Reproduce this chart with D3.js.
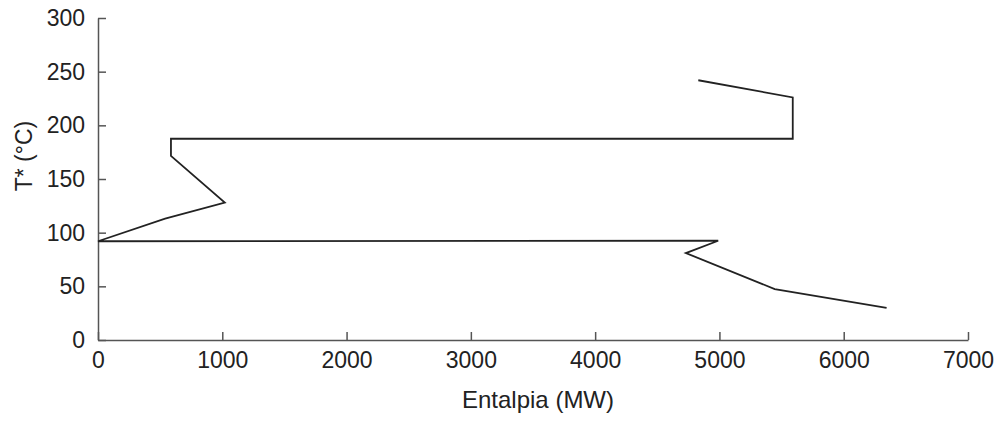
<!DOCTYPE html>
<html>
<head>
<meta charset="utf-8">
<script src="https://cdn.jsdelivr.net/npm/d3@7"></script>
<style>
  body { margin: 0; background: #fff; }
  text { font-family: "Liberation Sans", Arial, sans-serif; fill: #222; }
  .axis path, .axis line { stroke: #555; stroke-width: 1.5px; }
</style>
</head>
<body>
<svg id="chart" width="1003" height="423"></svg>
<script>
// enthalpy (MW) and temperature (°C) of the composite curve, in drawing order
const entalpia = [4830, 5590, 5590, 587, 587, 1020, 540, 0, 4990, 4730, 5445, 6345];
const temperatura = [242, 226, 187.5, 187.5, 171.5, 128, 113, 92, 92.5, 81, 47.5, 30];
const xTicks = [0, 1000, 2000, 3000, 4000, 5000, 6000, 7000];
const yTicks = [0, 50, 100, 150, 200, 250, 300];

const svg = d3.select("#chart");
const margin = {left: 98, top: 18, right: 35, bottom: 83};
const width = 1003 - margin.left - margin.right;
const height = 423 - margin.top - margin.bottom;

const x = d3.scaleLinear().domain([0, 7000]).range([0, width]);
const y = d3.scaleLinear().domain([0, 300]).range([height, 0]);

const g = svg.append("g").attr("transform", "translate(" + margin.left + "," + margin.top + ")");

// axes, ticks drawn inwards
const xAxis = g.append("g")
    .attr("class", "axis")
    .attr("transform", "translate(0," + height + ")")
    .call(d3.axisBottom(x).tickValues(xTicks).tickFormat(d3.format("d"))
        .tickSize(-8).tickSizeOuter(0).tickPadding(12));
xAxis.selectAll("text").style("font-size", "23px").attr("dy", "0.71em");

const yAxis = g.append("g")
    .attr("class", "axis")
    .call(d3.axisLeft(y).tickValues(yTicks).tickFormat(d3.format("d"))
        .tickSize(-8).tickSizeOuter(0).tickPadding(13));
yAxis.selectAll("text").style("font-size", "23px");

// curve
const line = d3.line()
    .x((d, i) => x(entalpia[i]))
    .y((d, i) => y(temperatura[i]));

g.append("path")
    .datum(entalpia)
    .attr("d", line)
    .attr("fill", "none")
    .attr("stroke", "#222")
    .attr("stroke-width", 1.8)
    .attr("stroke-linejoin", "miter");

// axis titles
svg.append("text")
    .attr("x", 538)
    .attr("y", 399)
    .attr("text-anchor", "middle")
    .attr("dominant-baseline", "central")
    .style("font-size", "24px")
    .text("Entalpia (MW)");

svg.append("text")
    .attr("transform", "translate(24,156) rotate(-90)")
    .attr("text-anchor", "middle")
    .attr("dominant-baseline", "central")
    .style("font-size", "23px")
    .text("T* (°C)");
</script>
</body>
</html>
